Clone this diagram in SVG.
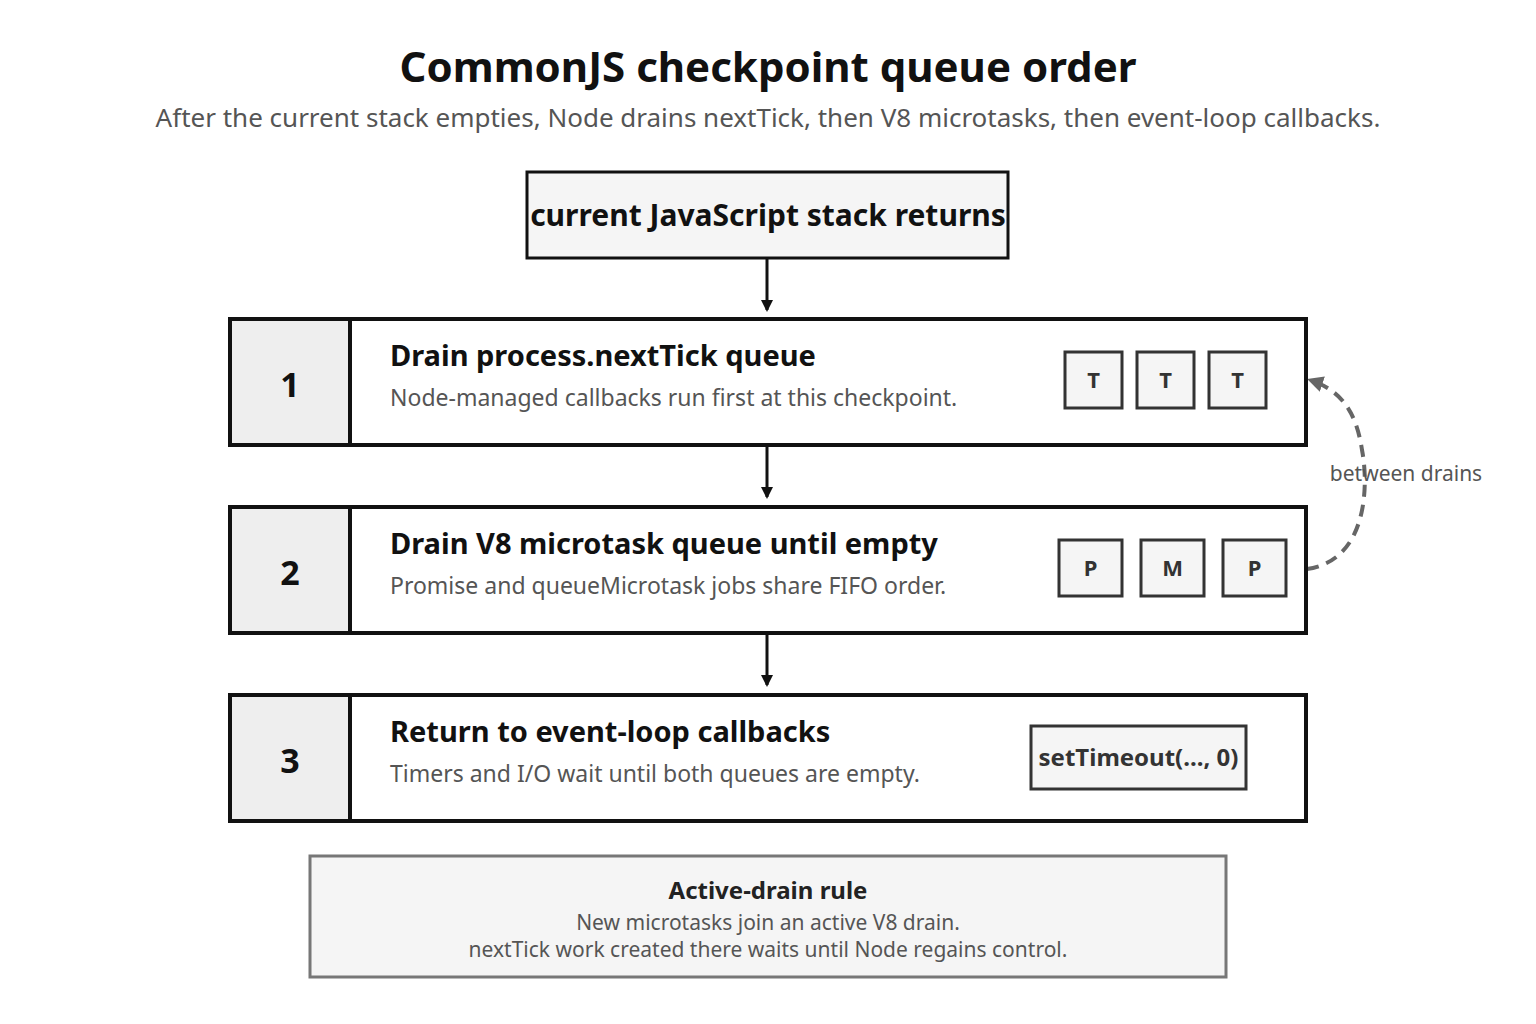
<svg xmlns="http://www.w3.org/2000/svg" width="1536" height="1024" viewBox="0 0 1536 1024">
<style>
text{font-family:"Noto Sans","Open Sans","DejaVu Sans",sans-serif;}
.title{font-size:42px;font-weight:700;fill:#111;text-anchor:middle}
.sub{font-size:26px;fill:#555;text-anchor:middle}
.step{fill:#fff;stroke:#111;stroke-width:4}
.num{fill:#eee;stroke:#111;stroke-width:4}
.numt{font-size:34px;font-weight:700;fill:#111;text-anchor:middle}
.h{font-size:29px;font-weight:700;fill:#111}
.d{font-size:23px;fill:#555}
.chip{fill:#f5f5f5;stroke:#333;stroke-width:3}
.chipt{font-size:22px;font-weight:700;fill:#333;text-anchor:middle}
.conn{stroke:#111;stroke-width:3;fill:none}
</style>
<defs>
<marker id="ah" markerWidth="12" markerHeight="12" refX="10" refY="6" orient="auto" markerUnits="userSpaceOnUse">
<path d="M0,0 L12,6 L0,12 Z" fill="#111"/>
</marker>
<marker id="ahg" markerWidth="16" markerHeight="16" refX="13" refY="8" orient="auto" markerUnits="userSpaceOnUse">
<path d="M0,0 L16,8 L0,16 Z" fill="#666"/>
</marker>
</defs>
<rect width="1536" height="1024" fill="#fff"/>
<text class="title" x="768" y="82">CommonJS checkpoint queue order</text>
<text class="sub" x="768" y="127">After the current stack empties, Node drains nextTick, then V8 microtasks, then event-loop callbacks.</text>

<g id="connectors">
<line class="conn" x1="767" y1="259" x2="767" y2="310" marker-end="url(#ah)"/>
<line class="conn" x1="767" y1="447" x2="767" y2="497" marker-end="url(#ah)"/>
<line class="conn" x1="767" y1="635" x2="767" y2="685" marker-end="url(#ah)"/>
<path d="M1307,569 C1370,560 1368,480 1362,450 C1356,410 1340,390 1310,380" fill="none" stroke="#666" stroke-width="4" stroke-dasharray="12 8" marker-end="url(#ahg)"/>
<text x="1406" y="481" style="font-size:21px;fill:#555;text-anchor:middle">between drains</text>
</g>

<g id="start">
<rect x="527" y="172" width="481" height="86" fill="#f5f5f5" stroke="#111" stroke-width="3"/>
<text x="768" y="226" style="font-size:30px;font-weight:700;fill:#111;text-anchor:middle">current JavaScript stack returns</text>
</g>

<g id="step1">
<rect class="step" x="230" y="319" width="1076" height="126"/>
<rect class="num" x="230" y="319" width="120" height="126"/>
<text class="numt" x="290" y="397">1</text>
<text class="h" x="390" y="366">Drain process.nextTick queue</text>
<text class="d" x="390" y="406">Node-managed callbacks run first at this checkpoint.</text>
<rect class="chip" x="1065" y="352" width="57" height="56"/>
<text class="chipt" x="1093.5" y="388">T</text>
<rect class="chip" x="1137" y="352" width="57" height="56"/>
<text class="chipt" x="1165.5" y="388">T</text>
<rect class="chip" x="1209" y="352" width="57" height="56"/>
<text class="chipt" x="1237.5" y="388">T</text>
</g>

<g id="step2">
<rect class="step" x="230" y="507" width="1076" height="126"/>
<rect class="num" x="230" y="507" width="120" height="126"/>
<text class="numt" x="290" y="585">2</text>
<text class="h" x="390" y="554">Drain V8 microtask queue until empty</text>
<text class="d" x="390" y="594">Promise and queueMicrotask jobs share FIFO order.</text>
<rect class="chip" x="1059" y="540" width="63" height="56"/>
<text class="chipt" x="1090.5" y="576">P</text>
<rect class="chip" x="1141" y="540" width="63" height="56"/>
<text class="chipt" x="1172.5" y="576">M</text>
<rect class="chip" x="1223" y="540" width="63" height="56"/>
<text class="chipt" x="1254.5" y="576">P</text>
</g>

<g id="step3">
<rect class="step" x="230" y="695" width="1076" height="126"/>
<rect class="num" x="230" y="695" width="120" height="126"/>
<text class="numt" x="290" y="773">3</text>
<text class="h" x="390" y="742">Return to event-loop callbacks</text>
<text class="d" x="390" y="782">Timers and I/O wait until both queues are empty.</text>
<rect class="chip" x="1031" y="726" width="215" height="63"/>
<text class="chipt" x="1138.5" y="766" style="font-size:24px">setTimeout(..., 0)</text>
</g>

<g id="note">
<rect x="310" y="856" width="916" height="121" fill="#f5f5f5" stroke="#777" stroke-width="3"/>
<text x="768" y="899" style="font-size:24px;font-weight:700;fill:#222;text-anchor:middle">Active-drain rule</text>
<text x="768" y="930" style="font-size:21px;fill:#555;text-anchor:middle">New microtasks join an active V8 drain.</text>
<text x="768" y="957" style="font-size:21px;fill:#555;text-anchor:middle">nextTick work created there waits until Node regains control.</text>
</g>
</svg>
